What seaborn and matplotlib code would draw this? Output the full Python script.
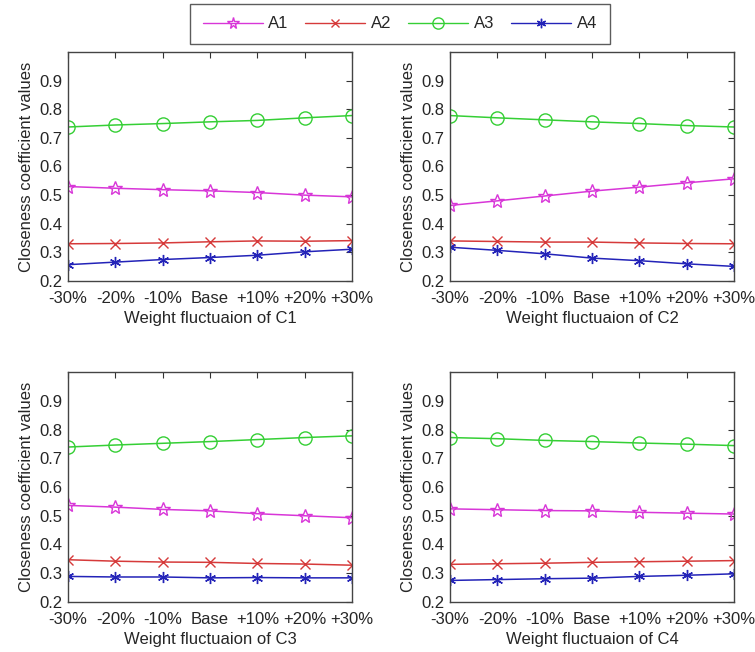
import numpy as np
import pandas as pd
import matplotlib
matplotlib.use("Agg")
import matplotlib.pyplot as plt
import seaborn as sns
from matplotlib.lines import Line2D

levels = ["-30%", "-20%", "-10%", "Base", "+10%", "+20%", "+30%"]
criteria = ["C1", "C2", "C3", "C4"]
alts = ["A1", "A2", "A3", "A4"]

c1_A1 = [0.530, 0.524, 0.519, 0.515, 0.509, 0.500, 0.494]
c1_A2 = [0.330, 0.331, 0.333, 0.337, 0.340, 0.339, 0.341]
c1_A3 = [0.738, 0.745, 0.750, 0.756, 0.761, 0.770, 0.778]
c1_A4 = [0.257, 0.266, 0.275, 0.282, 0.290, 0.302, 0.311]

c2_A1 = [0.464, 0.480, 0.497, 0.514, 0.528, 0.543, 0.557]
c2_A2 = [0.340, 0.338, 0.336, 0.336, 0.333, 0.331, 0.330]
c2_A3 = [0.778, 0.770, 0.763, 0.756, 0.750, 0.743, 0.738]
c2_A4 = [0.318, 0.307, 0.295, 0.280, 0.271, 0.260, 0.251]

c3_A1 = [0.536, 0.530, 0.522, 0.517, 0.507, 0.500, 0.493]
c3_A2 = [0.347, 0.342, 0.339, 0.338, 0.334, 0.332, 0.328]
c3_A3 = [0.739, 0.746, 0.752, 0.758, 0.765, 0.772, 0.778]
c3_A4 = [0.289, 0.287, 0.287, 0.284, 0.285, 0.284, 0.284]

c4_A1 = [0.524, 0.521, 0.518, 0.517, 0.512, 0.509, 0.506]
c4_A2 = [0.331, 0.333, 0.335, 0.338, 0.340, 0.342, 0.344]
c4_A3 = [0.772, 0.768, 0.762, 0.758, 0.753, 0.749, 0.744]
c4_A4 = [0.275, 0.278, 0.281, 0.283, 0.289, 0.293, 0.298]

values = {
    "C1": [c1_A1, c1_A2, c1_A3, c1_A4],
    "C2": [c2_A1, c2_A2, c2_A3, c2_A4],
    "C3": [c3_A1, c3_A2, c3_A3, c3_A4],
    "C4": [c4_A1, c4_A2, c4_A3, c4_A4],
}

rows = []
for c in criteria:
    for a, vals in zip(alts, values[c]):
        for i, (lv, v) in enumerate(zip(levels, vals)):
            rows.append(dict(criterion=c, alt=a, pos=i, level=lv, value=v))
df = pd.DataFrame(rows)

sns.set_style("white")
plt.rcParams["font.family"] = ["Liberation Sans", "DejaVu Sans"]

colors = {"A1": "#d836d8", "A2": "#d63a3a", "A3": "#35cf35", "A4": "#2323b8"}
markers = {"A1": "*", "A2": "x", "A3": "o", "A4": (6, 2, 0)}
msizes = {"A1": 10, "A2": 6.5, "A3": 9.5, "A4": 8}

fig = plt.figure(figsize=(7.55, 6.52), dpi=100)
W, H = 755, 652
boxes = {
    "C1": (68, 52, 352, 281),
    "C2": (450, 52, 734, 281),
    "C3": (68, 372, 352, 602),
    "C4": (450, 372, 734, 602),
}

for c in criteria:
    x0, y0, x1, y1 = boxes[c]
    ax = fig.add_axes([x0 / W, 1 - y1 / H, (x1 - x0) / W, (y1 - y0) / H])
    sub = df[df.criterion == c]
    for a in alts:
        d = sub[sub.alt == a]
        sns.lineplot(data=d, x="pos", y="value", ax=ax, color=colors[a],
                     marker=markers[a], markersize=msizes[a],
                     markerfacecolor="none", markeredgecolor=colors[a],
                     markeredgewidth=1.0, linewidth=1.1, legend=False)
    ax.set_xlim(0, len(levels) - 1)
    ax.set_ylim(0.2, 1.0)
    ax.set_xticks(range(len(levels)))
    ax.set_xticklabels(levels)
    ax.set_yticks([0.2, 0.3, 0.4, 0.5, 0.6, 0.7, 0.8, 0.9])
    ax.set_yticklabels(["0.2", "0.3", "0.4", "0.5", "0.6", "0.7", "0.8", "0.9"])
    ax.tick_params(direction="in", top=True, right=True, length=4,
                   width=0.8, labelsize=12, color="#333333")
    ax.tick_params(axis="x", pad=7)
    ax.tick_params(axis="y", pad=4)
    for s in ax.spines.values():
        s.set_color("#444444")
        s.set_linewidth(1.0)
    ax.set_xlabel(f"Weight fluctuaion of {c}", fontsize=12, labelpad=4)
    ax.set_ylabel("Closeness coefficient values", fontsize=12, labelpad=4)

handles = [Line2D([0], [0], color=colors[a], marker=markers[a],
                  markersize=msizes[a] * 0.85, markerfacecolor="none",
                  markeredgecolor=colors[a], linewidth=1.0) for a in alts]
leg = fig.legend(handles, alts, loc="center", bbox_to_anchor=(400 / W, 1 - 24 / H),
                 ncol=4, frameon=True, fancybox=False, fontsize=12,
                 handlelength=3.6, columnspacing=1.0, handletextpad=0.35,
                 borderpad=0.75)
leg.get_frame().set_edgecolor("#333333")
leg.get_frame().set_linewidth(1.0)

fig.savefig("out.png", dpi=100, facecolor="white")
